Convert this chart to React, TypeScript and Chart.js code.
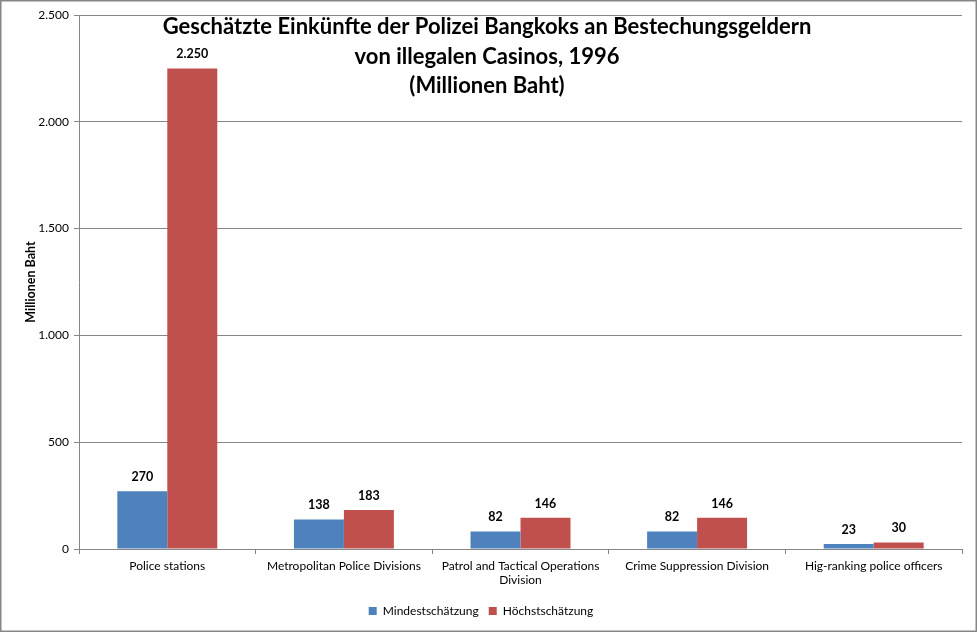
import React, { useEffect, useRef } from "react";
import { Chart, registerables } from "chart.js";

Chart.register(...registerables);

const categories: (string | string[])[] = [
  "Police stations",
  "Metropolitan Police Divisions",
  ["Patrol and Tactical Operations", "Division"],
  "Crime Suppression Division",
  "Hig-ranking police officers",
];
const minValues = [270, 138, 82, 82, 23];
const maxValues = [2250, 183, 146, 146, 30];
const seriesNames = ["Mindestschätzung", "Höchstschätzung"];
const titleLines = [
  "Geschätzte Einkünfte der Polizei Bangkoks an Bestechungsgeldern",
  "von illegalen Casinos, 1996",
  "(Millionen Baht)",
];
const yAxisTitle = "Millionen Baht";

const FONT = "Lato, 'Open Sans', sans-serif";

function fmtDE(v: number): string {
  const s = Math.round(v).toString();
  return s.replace(/\B(?=(\d{3})+(?!\d))/g, ".");
}

const framePlugin = {
  id: "frame",
  beforeDraw(chart: any) {
    const { ctx, width, height } = chart;
    ctx.save();
    ctx.fillStyle = "#ffffff";
    ctx.fillRect(0, 0, width, height);
    ctx.strokeStyle = "#868686";
    ctx.lineWidth = 1.5;
    ctx.strokeRect(0.75, 0.75, width - 1.5, height - 1.5);
    ctx.restore();
  },
};

const labelsPlugin = {
  id: "valueLabels",
  afterDatasetsDraw(chart: any) {
    const { ctx } = chart;
    ctx.save();
    ctx.font = `bold 12.5px ${FONT}`;
    ctx.fillStyle = "#000000";
    ctx.textAlign = "center";
    ctx.textBaseline = "bottom";
    chart.data.datasets.forEach((ds: any, di: number) => {
      const meta = chart.getDatasetMeta(di);
      meta.data.forEach((bar: any, i: number) => {
        ctx.fillText(fmtDE(ds.data[i]), bar.x, bar.y - 8);
      });
    });
    ctx.restore();
  },
};

const titlePlugin = {
  id: "overlayTitle",
  afterDraw(chart: any) {
    const { ctx } = chart;
    ctx.save();
    ctx.font = `bold 22px ${FONT}`;
    ctx.fillStyle = "#000000";
    ctx.textAlign = "center";
    ctx.textBaseline = "middle";
    const cx = 487;
    titleLines.forEach((line, i) => {
      ctx.fillText(line, cx, 27 + i * 29.5);
    });
    ctx.restore();
  },
};

export default function App() {
  const ref = useRef<HTMLCanvasElement | null>(null);

  useEffect(() => {
    document.body.style.margin = "0";
    const canvas = ref.current;
    if (!canvas) return;
    const chart = new Chart(canvas, {
      type: "bar",
      data: {
        labels: categories as any,
        datasets: [
          {
            label: seriesNames[0],
            data: minValues,
            backgroundColor: "#4F81BD",
            categoryPercentage: 0.566,
            barPercentage: 1,
          },
          {
            label: seriesNames[1],
            data: maxValues,
            backgroundColor: "#C0504D",
            categoryPercentage: 0.566,
            barPercentage: 1,
          },
        ],
      },
      options: {
        responsive: false,
        animation: false,
        devicePixelRatio: 1,
        layout: { padding: { top: 15, right: 15, bottom: 5, left: 0 } },
        plugins: {
          legend: {
            position: "bottom",
            labels: {
              boxWidth: 8,
              boxHeight: 8,
              padding: 10,
              color: "#000000",
              font: { family: FONT, size: 12 },
            },
          },
          title: { display: false },
          tooltip: { enabled: false },
        },
        scales: {
          x: {
            grid: {
              display: true,
              drawOnChartArea: false,
              drawTicks: true,
              tickLength: 5,
              color: "#868686",
              offset: true,
            },
            border: { display: true, color: "#868686" },
            ticks: {
              color: "#000000",
              font: { family: FONT, size: 12 },
              padding: 5,
              maxRotation: 0,
              autoSkip: false,
            },
            afterFit: (scale: any) => {
              scale.height = 46;
            },
          },
          y: {
            min: 0,
            max: 2500,
            ticks: {
              stepSize: 500,
              color: "#000000",
              font: { family: FONT, size: 12 },
              padding: 5,
              callback: (v: any) => fmtDE(Number(v)),
            },
            grid: {
              color: "#868686",
              tickLength: 5,
            },
            border: { display: true, color: "#868686" },
            title: {
              display: true,
              text: yAxisTitle,
              color: "#000000",
              font: { family: FONT, size: 12.5, weight: "bold" },
              padding: { top: 23, bottom: 0 },
            },
            afterFit: (scale: any) => {
              scale.width = 79;
            },
          },
        },
      },
      plugins: [framePlugin, labelsPlugin, titlePlugin],
    });
    return () => chart.destroy();
  }, []);

  return (
    <div style={{ width: 977, height: 632 }}>
      <canvas ref={ref} width={977} height={632} style={{ display: "block" }} />
    </div>
  );
}
